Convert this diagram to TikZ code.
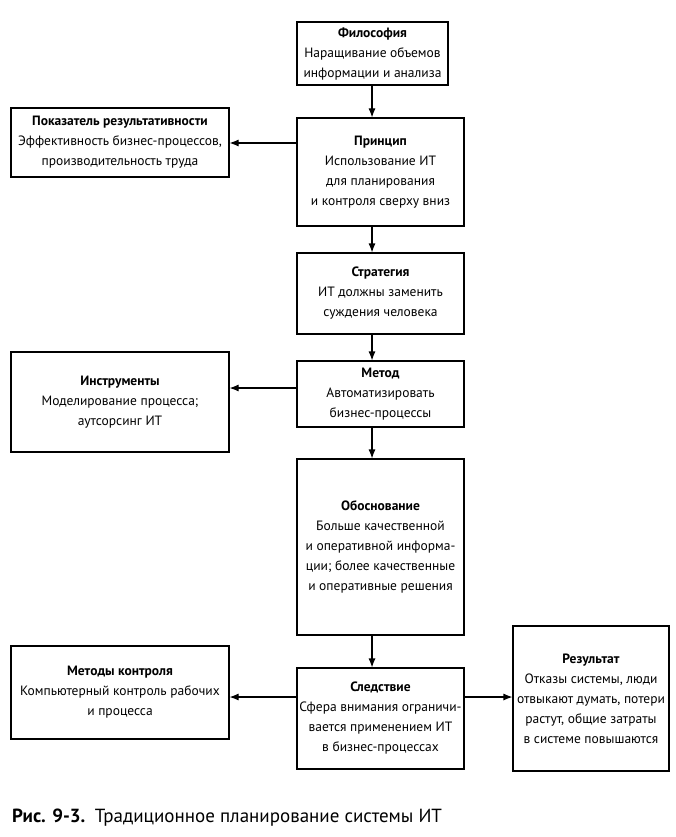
\documentclass[tikz,border=0pt]{standalone}
\usepackage{fontspec}
\setmainfont{PT Sans}
\usetikzlibrary{arrows.meta}
\begin{document}
\begin{tikzpicture}[x=1pt,y=-1pt,
  box/.style={draw,line width=1.1pt,inner sep=0pt,align=center,
    font=\fontsize{13.5}{20}\selectfont},
  arr/.style={line width=1.1pt,-{Latex[length=9pt,width=7pt]}}]
\useasboundingbox (0,0) rectangle (676,837);
\node[box,minimum width=151,minimum height=63] (phil) at (372.5,53.5)
  {\textbf{Философия}\\Наращивание объемов\\информации и анализа};
\node[box,minimum width=167,minimum height=108] (princ) at (380.5,172)
  {\textbf{Принцип}\\Использование ИТ\\для планирования\\и контроля сверху вниз};
\node[box,minimum width=218,minimum height=69] (pok) at (120,142.5)
  {\textbf{Показатель результативности}\\Эффективность бизнес-процессов,\\производительность труда};
\node[box,minimum width=167,minimum height=81] (strat) at (380.5,293.5)
  {\textbf{Стратегия}\\ИТ должны заменить\\суждения человека};
\node[box,minimum width=167,minimum height=66] (metod) at (380.5,394)
  {\textbf{Метод}\\Автоматизировать\\бизнес-процессы};
\node[box,minimum width=218,minimum height=100] (instr) at (120,402)
  {\textbf{Инструменты}\\Моделирование процесса;\\аутсорсинг ИТ};
\node[box,minimum width=167,minimum height=176] (obos) at (380.5,547)
  {\textbf{Обоснование}\\Больше качественной\\и оперативной информа-\\ции; более качественные\\и оперативные решения};
\node[box,minimum width=218,minimum height=93] (mk) at (120,692.5)
  {\textbf{Методы контроля}\\Компьютерный контроль рабочих\\и процесса};
\node[box,minimum width=167,minimum height=101] (sled) at (380.5,718.5)
  {\textbf{Следствие}\\Сфера внимания ограничи-\\вается применением ИТ\\в бизнес-процессах};
\node[box,minimum width=156,minimum height=145] (res) at (591,698.5)
  {\textbf{Результат}\\Отказы системы, люди\\отвыкают думать, потери\\растут, общие затраты\\в системе повышаются};
\coordinate (ax) at (372,0);
\coordinate (ay0) at (0,143);
\coordinate (ay1) at (0,388);
\coordinate (ay2) at (0,697);
\draw[arr] (ax |- phil.south) -- (ax |- princ.north);
\draw[arr] (ax |- princ.south) -- (ax |- strat.north);
\draw[arr] (ax |- strat.south) -- (ax |- metod.north);
\draw[arr] (ax |- metod.south) -- (ax |- obos.north);
\draw[arr] (ax |- obos.south) -- (ax |- sled.north);
\draw[arr] (princ.west |- ay0) -- (pok.east |- ay0);
\draw[arr] (metod.west |- ay1) -- (instr.east |- ay1);
\draw[arr] (sled.west |- ay2) -- (mk.east |- ay2);
\draw[arr] (sled.east |- ay2) -- (res.west |- ay2);
\node[anchor=base west,inner sep=0pt,font=\fontsize{19}{24}\selectfont] (cap) at (12,822)
  {\textbf{Рис. 9-3.}\enspace Традиционное планирование системы ИТ};
\end{tikzpicture}
\end{document}
